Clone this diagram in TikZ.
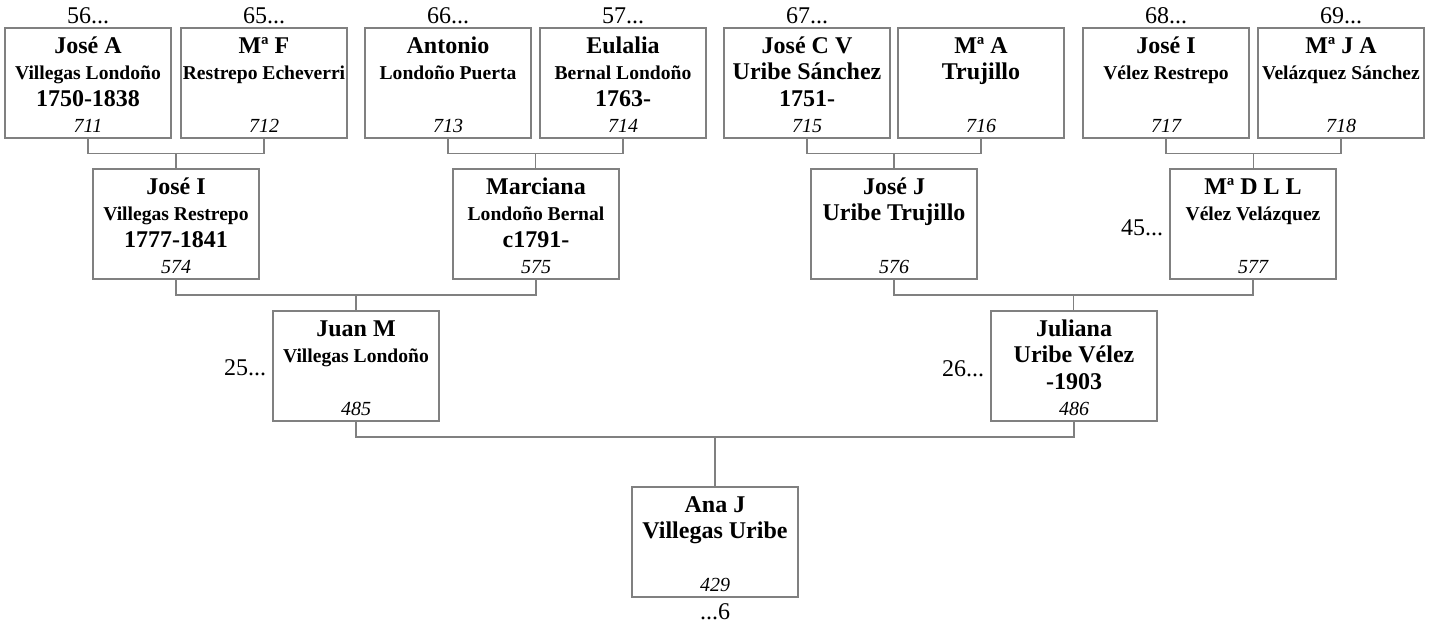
\documentclass[tikz,border=0pt]{standalone}
\usepackage{fontspec}
\setmainfont{Liberation Serif}
\usetikzlibrary{calc}
\definecolor{linegray}{RGB}{128,128,128}
\newcommand\smlsz{\fontsize{19.6}{22}\selectfont}
\newcommand\lrgsz{\fontsize{24}{28}\selectfont}
\tikzset{
  pbox/.style={draw=linegray, line width=1.1pt, minimum width=166pt, minimum height=110pt,
    inner sep=0pt, outer sep=0pt, anchor=north west},
  txt/.style={inner sep=0pt, outer sep=0pt, anchor=base},
  nm/.style={txt, font=\fontsize{24}{28}\selectfont\bfseries},
  sn/.style={txt, font=\bfseries},
  dt/.style={txt, font=\fontsize{24}{28}\selectfont\bfseries},
  num/.style={txt, font=\fontsize{20}{24}\selectfont\itshape},
  lbl/.style={inner sep=0pt, outer sep=0pt, font=\fontsize{24}{28}\selectfont},
  conn/.style={draw=linegray, line width=1.1pt}
}
% #1 id, #2 left x, #3 top y, #4 name, #5 size cmd, #6 surname, #7 date, #8 number
\newcommand\famperson[8]{%
  \node[pbox] (#1) at (#2,#3) {};
  \node[nm] (#1-n) at ([yshift=-25pt]#1.north) {#4};
  \node[sn] (#1-s) at ([yshift=-51pt]#1.north) {#5#6};
  \node[dt] (#1-d) at ([yshift=-78pt]#1.north) {#7};
  \node[num] (#1-r) at ([yshift=-104pt]#1.north) {#8};
}
\begin{document}
\begin{tikzpicture}[x=1pt,y=-1pt]
\useasboundingbox (0,0) rectangle (1431,625);
% generation 4
\famperson{b1}{5}{28}{José A}{\smlsz}{Villegas Londoño}{1750-1838}{711}
\famperson{b2}{181}{28}{Mª F}{\smlsz}{Restrepo Echeverri}{}{712}
\famperson{b3}{365}{28}{Antonio}{\smlsz}{Londoño Puerta}{}{713}
\famperson{b4}{540}{28}{Eulalia}{\smlsz}{Bernal Londoño}{1763-}{714}
\famperson{b5}{724}{28}{José C V}{\lrgsz}{Uribe Sánchez}{1751-}{715}
\famperson{b6}{898}{28}{Mª A}{\lrgsz}{Trujillo}{}{716}
\famperson{b7}{1083}{28}{José I}{\smlsz}{Vélez Restrepo}{}{717}
\famperson{b8}{1258}{28}{Mª J A}{\smlsz}{Velázquez Sánchez}{}{718}
% generation 3
\famperson{m1}{93}{169}{José I}{\smlsz}{Villegas Restrepo}{1777-1841}{574}
\famperson{m2}{453}{169}{Marciana}{\smlsz}{Londoño Bernal}{c1791-}{575}
\famperson{m3}{811}{169}{José J}{\lrgsz}{Uribe Trujillo}{}{576}
\famperson{m4}{1170}{169}{Mª D L L}{\smlsz}{Vélez Velázquez}{}{577}
% generation 2
\famperson{g1}{273}{311}{Juan M}{\smlsz}{Villegas Londoño}{}{485}
\famperson{g2}{991}{311}{Juliana}{\lrgsz}{Uribe Vélez}{-1903}{486}
% generation 1
\famperson{a1}{632}{487}{Ana J}{\lrgsz}{Villegas Uribe}{}{429}
% outer labels
\node[lbl, anchor=base] (l56) at ([yshift=5pt]b1.north) {56...};
\node[lbl, anchor=base] (l65) at ([yshift=5pt]b2.north) {65...};
\node[lbl, anchor=base] (l66) at ([yshift=5pt]b3.north) {66...};
\node[lbl, anchor=base] (l57) at ([yshift=5pt]b4.north) {57...};
\node[lbl, anchor=base] (l67) at ([yshift=5pt]b5.north) {67...};
\node[lbl, anchor=base] (l68) at ([yshift=5pt]b7.north) {68...};
\node[lbl, anchor=base] (l69) at ([yshift=5pt]b8.north) {69...};
\node[lbl, anchor=base east] (l45) at ([xshift=-7pt,yshift=-66pt]m4.north west) {45...};
\node[lbl, anchor=base east] (l25) at ([xshift=-7pt,yshift=-64pt]g1.north west) {25...};
\node[lbl, anchor=base east] (l26) at ([xshift=-7pt,yshift=-65pt]g2.north west) {26...};
\node[lbl, anchor=base] (l6) at ([yshift=-22pt]a1.south) {...6};
% junctions
\coordinate (j1) at ($($(b1.south)!0.5!(b2.south)$)+(0,15.5)$);
\coordinate (j2) at ($($(b3.south)!0.5!(b4.south)$)+(0,15.5)$);
\coordinate (j3) at ($($(b5.south)!0.5!(b6.south)$)+(0,15.5)$);
\coordinate (j4) at ($($(b7.south)!0.5!(b8.south)$)+(0,15.5)$);
\coordinate (j5) at ($($(m1.south)!0.5!(m2.south)$)+(0,16)$);
\coordinate (j6) at ($($(m3.south)!0.5!(m4.south)$)+(0,16)$);
\coordinate (j7) at ($($(g1.south)!0.5!(g2.south)$)+(0,16)$);
% connectors
\draw[conn] (b1.south) |- (j1) -| (b2.south);
\draw[conn] (j1) -- (j1 |- m1.north);
\draw[conn] (b3.south) |- (j2) -| (b4.south);
\draw[conn] (j2) -- (j2 |- m2.north);
\draw[conn] (b5.south) |- (j3) -| (b6.south);
\draw[conn] (j3) -- (j3 |- m3.north);
\draw[conn] (b7.south) |- (j4) -| (b8.south);
\draw[conn] (j4) -- (j4 |- m4.north);
\draw[conn] (m1.south) |- (j5) -| (m2.south);
\draw[conn] (j5) -- (j5 |- g1.north);
\draw[conn] (m3.south) |- (j6) -| (m4.south);
\draw[conn] (j6) -- (j6 |- g2.north);
\draw[conn] (g1.south) |- (j7) -| (g2.south);
\draw[conn] (j7) -- (j7 |- a1.north);
\end{tikzpicture}
\end{document}
